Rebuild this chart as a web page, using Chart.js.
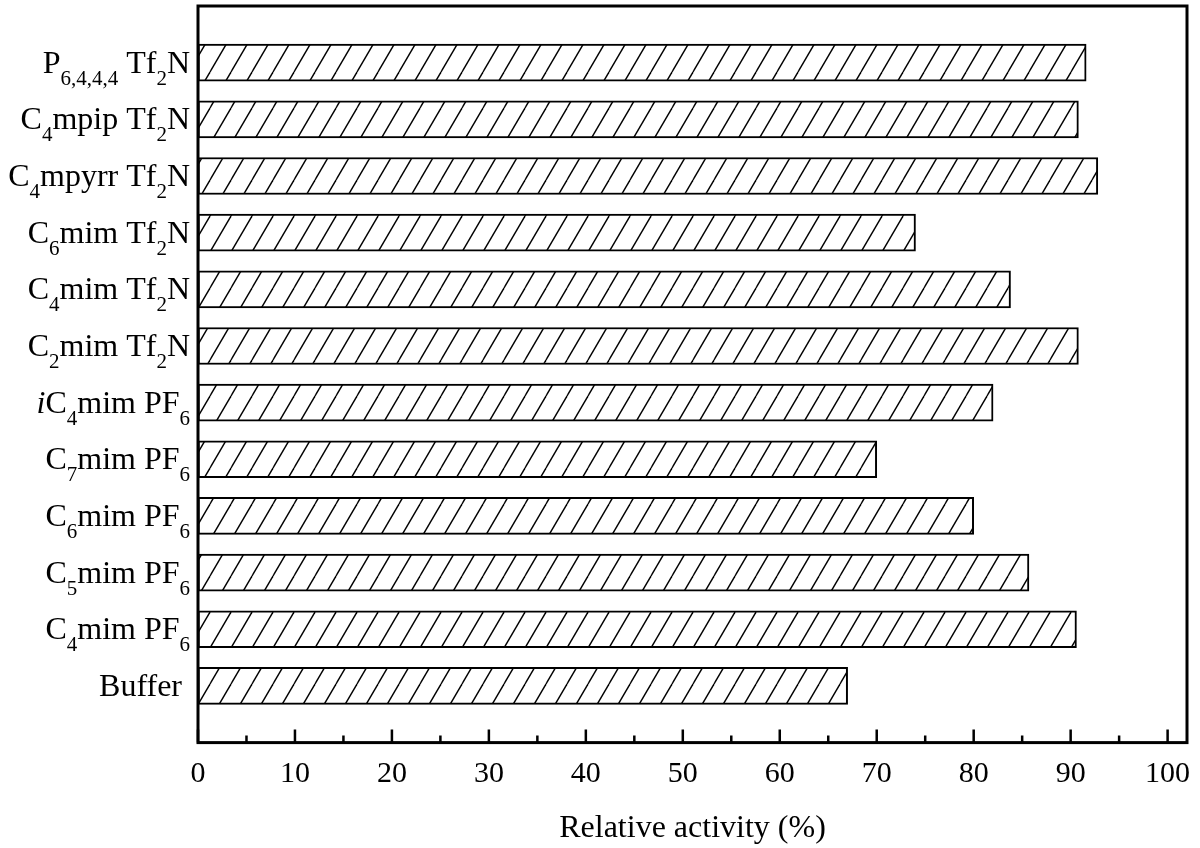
<!DOCTYPE html>
<html><head><meta charset="utf-8">
<script src="https://cdn.jsdelivr.net/npm/chart.js@4.4.1/dist/chart.umd.min.js"></script>
<style>html,body{margin:0;padding:0;background:#fff;} #wrap{width:1200px;height:848px;}</style>
</head><body><div id="wrap"><canvas id="c" width="1200" height="848"></canvas></div>
<script>
// ---- data (bottom to top) ----
const categories = ['Buffer ', 'C_{4}mim PF_{6}', 'C_{5}mim PF_{6}', 'C_{6}mim PF_{6}', 'C_{7}mim PF_{6}', '*i*C_{4}mim PF_{6}',
  'C_{2}mim Tf_{2}N', 'C_{4}mim Tf_{2}N', 'C_{6}mim Tf_{2}N', 'C_{4}mpyrr Tf_{2}N', 'C_{4}mpip Tf_{2}N', 'P_{6,4,4,4} Tf_{2}N'];
const relativeActivity = [67.0, 90.6, 85.7, 80.0, 70.0, 82.0, 90.8, 83.8, 74.0, 92.8, 90.8, 91.6];
const xMajorTicks = [0, 10, 20, 30, 40, 50, 60, 70, 80, 90, 100];
const xMinorTicks = [5, 15, 25, 35, 45, 55, 65, 75, 85, 95];
const xAxisTitle = 'Relative activity (%)';

const FONT = "'Liberation Serif', 'Times New Roman', serif";

function makeHatch(ctx) {
  const w = 21, h = 36;
  const c = document.createElement('canvas');
  c.width = w; c.height = h;
  const g = c.getContext('2d');
  g.fillStyle = '#fff'; g.fillRect(0, 0, w, h);
  g.strokeStyle = '#000'; g.lineWidth = 1.4;
  for (const dx of [-w, 0, w]) {
    g.beginPath(); g.moveTo(dx, h); g.lineTo(dx + w, 0); g.stroke();
  }
  return ctx.createPattern(c, 'repeat');
}

function parseLabel(str) {
  const segs = [];
  const re = /_\{([^}]*)\}|\*([^*]*)\*|([^_*]+)/g;
  let m;
  while ((m = re.exec(str)) !== null) {
    if (m[1] !== undefined) segs.push({t: m[1], sub: true});
    else if (m[2] !== undefined) segs.push({t: m[2], it: true});
    else segs.push({t: m[3]});
  }
  return segs;
}

const mainSize = 32, subSize = 21, subDrop = 12;
function segFont(s) {
  return (s.it ? 'italic ' : '') + (s.sub ? subSize : mainSize) + 'px ' + FONT;
}

const framePlugin = {
  id: 'frame',
  beforeDraw(chart) {
    const ctx = chart.ctx;
    ctx.save(); ctx.fillStyle = '#fff'; ctx.fillRect(0, 0, chart.width, chart.height); ctx.restore();
  },
  afterDraw(chart) {
    const ctx = chart.ctx, a = chart.chartArea;
    const xs = chart.scales.x, ys = chart.scales.y;
    ctx.save();
    ctx.strokeStyle = '#000';
    ctx.lineWidth = 3;
    ctx.strokeRect(a.left, a.top, a.right - a.left, a.bottom - a.top);
    ctx.lineWidth = 2.5;
    ctx.beginPath();
    for (const v of xMajorTicks) { const x = xs.getPixelForValue(v); ctx.moveTo(x, a.bottom); ctx.lineTo(x, a.bottom - 13); }
    for (const v of xMinorTicks) { const x = xs.getPixelForValue(v); ctx.moveTo(x, a.bottom); ctx.lineTo(x, a.bottom - 7); }
    ctx.stroke();
    // category labels with subscripts
    ctx.fillStyle = '#000';
    ctx.textBaseline = 'alphabetic';
    ctx.textAlign = 'left';
    categories.forEach((lab, i) => {
      const y = ys.getPixelForValue(i + 1) + 10;
      const segs = parseLabel(lab);
      let total = 0;
      for (const s of segs) { ctx.font = segFont(s); s.w = ctx.measureText(s.t).width; total += s.w; }
      let x = 190 - total;
      for (const s of segs) {
        ctx.font = segFont(s);
        ctx.fillText(s.t, x, s.sub ? y + subDrop : y);
        x += s.w;
      }
    });
    ctx.restore();
  }
};

const ctx = document.getElementById('c').getContext('2d');
const hatch = makeHatch(ctx);

new Chart(ctx, {
  type: 'bar',
  data: {
    labels: ['', ...categories, ''],
    datasets: [{
      data: [null, ...relativeActivity, null],
      backgroundColor: hatch,
      borderColor: '#000',
      borderWidth: 2,
      borderSkipped: false,
      barThickness: 37
    }]
  },
  options: {
    indexAxis: 'y',
    responsive: false,
    animation: false,
    devicePixelRatio: 1,
    layout: { padding: { top: 6, right: 13, bottom: 0, left: 0 } },
    plugins: { legend: { display: false }, tooltip: { enabled: false } },
    scales: {
      x: {
        type: 'linear', min: 0, max: 102,
        afterBuildTicks: s => { s.ticks = xMajorTicks.map(v => ({ value: v })); },
        afterFit: s => { s.paddingLeft = 0; s.paddingRight = 0; },
        grid: { display: false, drawTicks: false },
        border: { display: false },
        ticks: { color: '#000', font: { family: FONT, size: 30 }, padding: 14, maxRotation: 0 },
        title: { display: true, text: xAxisTitle, color: '#000', font: { family: FONT, size: 32 }, padding: { top: 3, bottom: 0 } }
      },
      y: {
        type: 'category', reverse: true, offset: false,
        grid: { display: false, drawTicks: false },
        border: { display: false },
        ticks: { display: false },
        afterFit: s => { s.width = 198; }
      }
    }
  },
  plugins: [framePlugin]
});
</script>
</body></html>
